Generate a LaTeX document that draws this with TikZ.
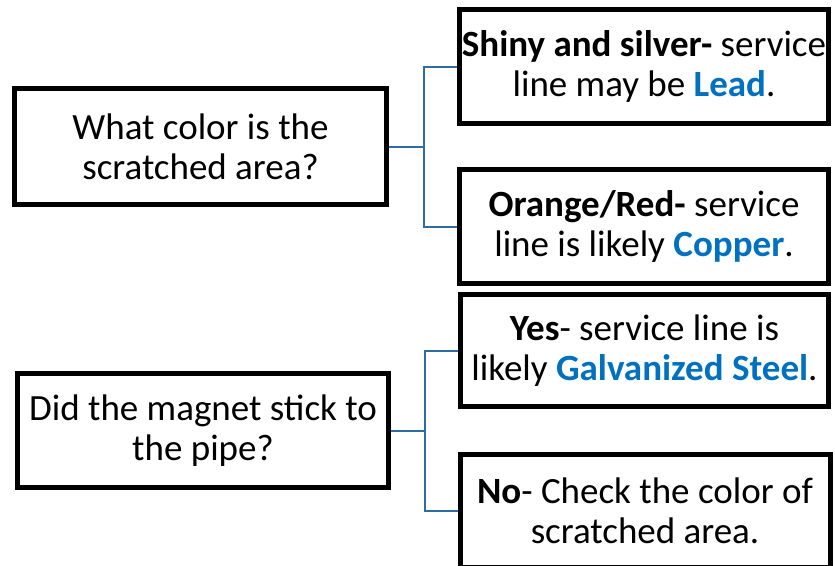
\documentclass[tikz,border=0pt]{standalone}
\usepackage{fontspec}
\setmainfont{Carlito}
\definecolor{connblue}{HTML}{2E6DA4}
\definecolor{txtblue}{HTML}{0070C0}
\begin{document}
\begin{tikzpicture}[x=1pt,y=-1pt,
  box/.style={draw=black,line width=5pt,fill=white,rectangle,inner sep=0pt,align=center,
    font=\fontsize{37}{40}\selectfont},
  conn/.style={draw=connblue,line width=2pt}]
\useasboundingbox (0,0) rectangle (835,565);
\node[box,minimum width=372,minimum height=116] (l1) at (200.5,146.5) {What color is the\\scratched area?};
\node[box,minimum width=371,minimum height=114] (l2) at (203,430.5) {Did the magnet stick to\\the pipe?};
\node[box,minimum width=369,minimum height=114] (r1) at (644,66.5) {\textbf{Shiny and silver-} service\\line may be \textbf{\color{txtblue}Lead}.};
\node[box,minimum width=369,minimum height=114] (r2) at (644,226.5) {\textbf{Orange/Red-} service\\line is likely \textbf{\color{txtblue}Copper}.};
\node[box,minimum width=368,minimum height=112] (r3) at (644.5,350.5) {\textbf{Yes}- service line is\\likely \textbf{\color{txtblue}Galvanized Steel}.};
\node[box,minimum width=370,minimum height=113] (r4) at (645,511) {\textbf{No}- Check the color of\\scratched area.};
\coordinate (j1) at (424,146.5);
\coordinate (j2) at (425,430.5);
\draw[conn] (l1.east) -- (j1);
\draw[conn] (j1) |- (r1.west);
\draw[conn] (j1) |- (r2.west);
\draw[conn] (l2.east) -- (j2);
\draw[conn] (j2) |- (r3.west);
\draw[conn] (j2) |- (r4.west);
\end{tikzpicture}
\end{document}
